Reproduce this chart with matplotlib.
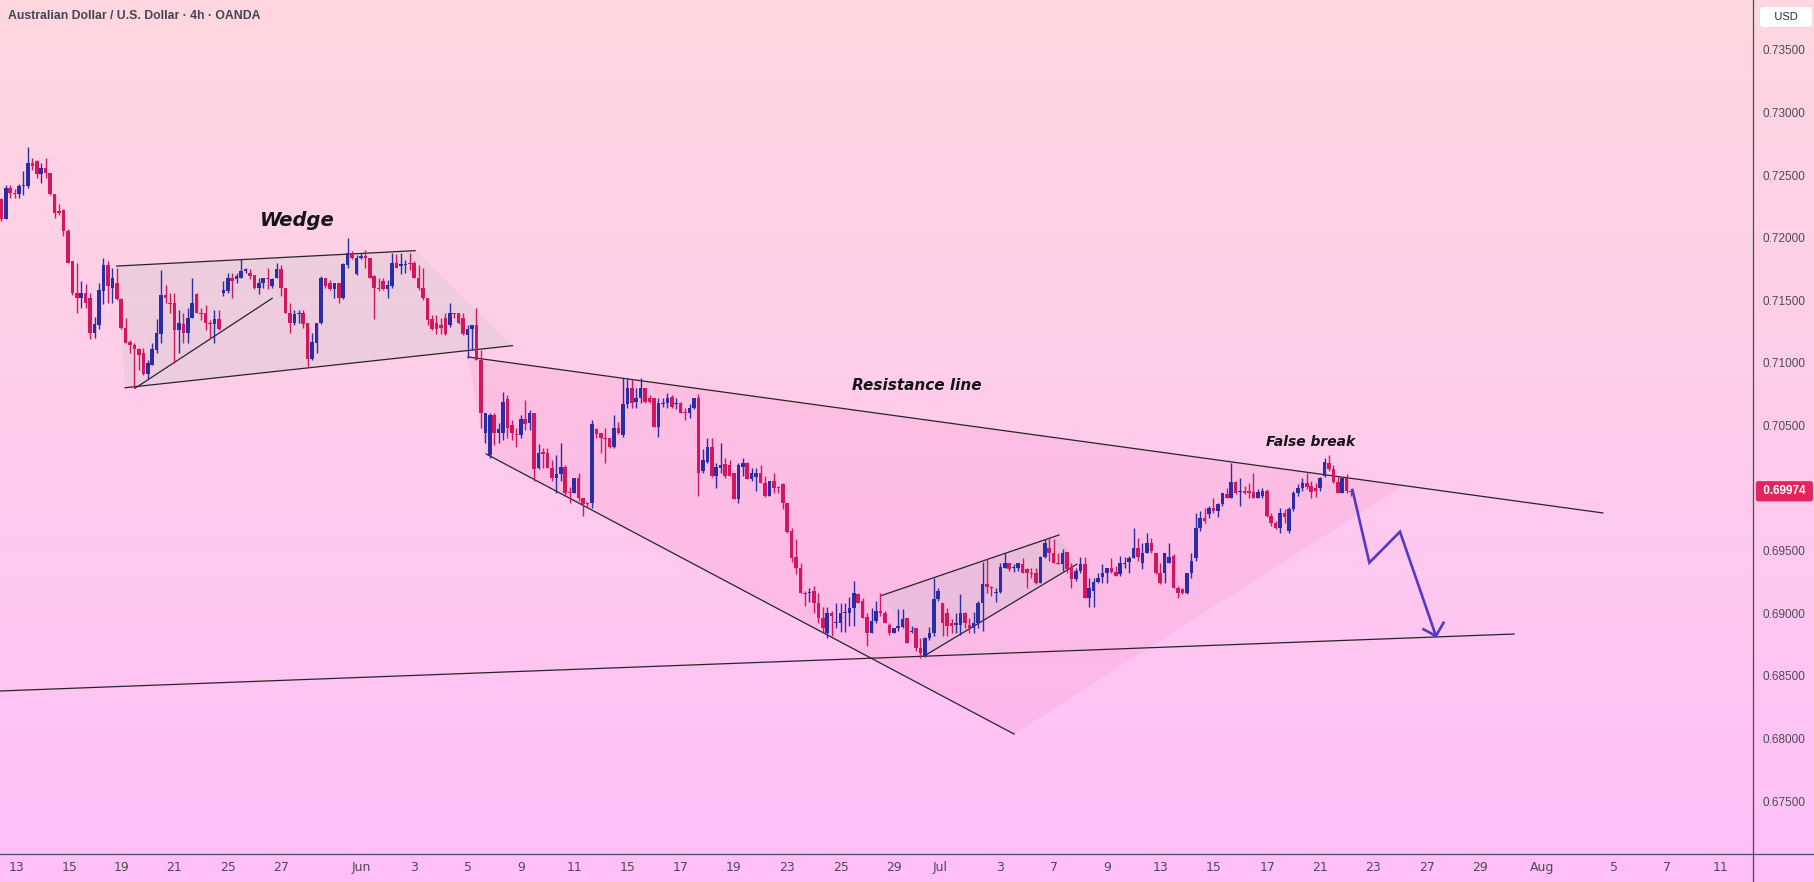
import numpy as np
import matplotlib.pyplot as plt
from matplotlib import font_manager
from matplotlib.patches import Polygon
from matplotlib.transforms import blended_transform_factory

# AUD/USD 4h candles
opens = [0.7231, 0.7215, 0.7240, 0.7236, 0.7235, 0.7241, 0.7241, 0.7260, 0.7261, 0.7251,
         0.7256, 0.7252, 0.7235, 0.7221, 0.7222, 0.7205, 0.7181, 0.7156, 0.7152, 0.7156,
         0.7152, 0.7124, 0.7130, 0.7157, 0.7178, 0.7160, 0.7164, 0.7151, 0.7128, 0.7117,
         0.7114, 0.7111, 0.7108, 0.7091, 0.7098, 0.7110, 0.7123, 0.7154, 0.7148, 0.7148,
         0.7126, 0.7131, 0.7124, 0.7136, 0.7155, 0.7140, 0.7140, 0.7132, 0.7131, 0.7135,
         0.7156, 0.7157, 0.7168, 0.7167, 0.7168, 0.7173, 0.7172, 0.7170, 0.7160, 0.7164,
         0.7168, 0.7161, 0.7168, 0.7175, 0.7160, 0.7140, 0.7132, 0.7139, 0.7140, 0.7132,
         0.7103, 0.7116, 0.7132, 0.7168, 0.7164, 0.7159, 0.7164, 0.7152, 0.7178, 0.7188,
         0.7171, 0.7184, 0.7185, 0.7184, 0.7169, 0.7160, 0.7165, 0.7159, 0.7161, 0.7180,
         0.7177, 0.7178, 0.7180, 0.7180, 0.7168, 0.7160, 0.7152, 0.7135, 0.7132, 0.7130,
         0.7136, 0.7130, 0.7140, 0.7140, 0.7136, 0.7122, 0.7127, 0.7130, 0.7102, 0.7044,
         0.7026, 0.7058, 0.7044, 0.7044, 0.7071, 0.7050, 0.7043, 0.7042, 0.7055, 0.7052,
         0.7060, 0.7016, 0.7029, 0.7028, 0.7016, 0.7008, 0.7011, 0.7017, 0.6997, 0.6996,
         0.7008, 0.6992, 0.6988, 0.6988, 0.7047, 0.7044, 0.7040, 0.7040, 0.7033, 0.7048,
         0.7042, 0.7067, 0.7080, 0.7069, 0.7072, 0.7080, 0.7072, 0.7072, 0.7049, 0.7067,
         0.7068, 0.7073, 0.7067, 0.7068, 0.7061, 0.7060, 0.7064, 0.7072, 0.7014, 0.7021,
         0.7033, 0.7010, 0.7016, 0.7019, 0.7018, 0.7012, 0.6991, 0.7017, 0.7020, 0.7007,
         0.7009, 0.7012, 0.7004, 0.6994, 0.7006, 0.7001, 0.7003, 0.6988, 0.6966, 0.6945,
         0.6936, 0.6916, 0.6916, 0.6918, 0.6908, 0.6896, 0.6884, 0.6900, 0.6892, 0.6892,
         0.6900, 0.6900, 0.6904, 0.6915, 0.6910, 0.6897, 0.6884, 0.6894, 0.6902, 0.6900,
         0.6891, 0.6884, 0.6888, 0.6889, 0.6896, 0.6885, 0.6888, 0.6872, 0.6866, 0.6880,
         0.6884, 0.6911, 0.6908, 0.6900, 0.6892, 0.6891, 0.6891, 0.6900, 0.6891, 0.6888,
         0.6892, 0.6908, 0.6923, 0.6921, 0.6916, 0.6917, 0.6936, 0.6940, 0.6936, 0.6936,
         0.6939, 0.6935, 0.6932, 0.6932, 0.6924, 0.6945, 0.6952, 0.6948, 0.6940, 0.6939,
         0.6949, 0.6936, 0.6927, 0.6934, 0.6939, 0.6912, 0.6918, 0.6925, 0.6929, 0.6932,
         0.6936, 0.6933, 0.6931, 0.6939, 0.6941, 0.6944, 0.6952, 0.6940, 0.6948, 0.6956,
         0.6948, 0.6932, 0.6932, 0.6940, 0.6946, 0.6920, 0.6919, 0.6916, 0.6932, 0.6944,
         0.6968, 0.6976, 0.6979, 0.6984, 0.6982, 0.6987, 0.6995, 0.6992, 0.7005, 0.6997,
         0.6998, 0.6998, 0.6997, 0.6992, 0.6994, 0.6998, 0.6978, 0.6972, 0.6968, 0.6980,
         0.6966, 0.6983, 0.6996, 0.7000, 0.7004, 0.7002, 0.7000, 0.7000, 0.7010, 0.7020,
         0.7015, 0.7005, 0.6996, 0.7008, 0.6998]
highs = [0.7232, 0.7242, 0.7242, 0.7239, 0.7243, 0.7253, 0.7272, 0.7264, 0.7262, 0.7260,
         0.7264, 0.7252, 0.7235, 0.7227, 0.7223, 0.7207, 0.7181, 0.7180, 0.7165, 0.7163,
         0.7156, 0.7137, 0.7164, 0.7184, 0.7181, 0.7176, 0.7176, 0.7152, 0.7136, 0.7118,
         0.7116, 0.7112, 0.7112, 0.7102, 0.7116, 0.7135, 0.7174, 0.7162, 0.7156, 0.7156,
         0.7142, 0.7140, 0.7144, 0.7168, 0.7156, 0.7144, 0.7146, 0.7134, 0.7142, 0.7142,
         0.7165, 0.7172, 0.7172, 0.7172, 0.7183, 0.7176, 0.7175, 0.7170, 0.7168, 0.7168,
         0.7176, 0.7168, 0.7180, 0.7178, 0.7160, 0.7148, 0.7142, 0.7142, 0.7142, 0.7132,
         0.7124, 0.7132, 0.7169, 0.7168, 0.7166, 0.7164, 0.7164, 0.7180, 0.7200, 0.7189,
         0.7186, 0.7188, 0.7190, 0.7184, 0.7170, 0.7168, 0.7168, 0.7166, 0.7188, 0.7187,
         0.7188, 0.7182, 0.7188, 0.7181, 0.7178, 0.7176, 0.7152, 0.7138, 0.7138, 0.7136,
         0.7140, 0.7148, 0.7140, 0.7140, 0.7140, 0.7130, 0.7130, 0.7144, 0.7110, 0.7060,
         0.7060, 0.7060, 0.7052, 0.7077, 0.7074, 0.7054, 0.7048, 0.7058, 0.7070, 0.7062,
         0.7060, 0.7035, 0.7032, 0.7032, 0.7022, 0.7026, 0.7036, 0.7018, 0.7001, 0.7008,
         0.7012, 0.6992, 0.6989, 0.7054, 0.7048, 0.7044, 0.7048, 0.7040, 0.7058, 0.7053,
         0.7088, 0.7088, 0.7087, 0.7080, 0.7088, 0.7080, 0.7074, 0.7072, 0.7072, 0.7072,
         0.7076, 0.7074, 0.7072, 0.7069, 0.7064, 0.7067, 0.7072, 0.7075, 0.7031, 0.7040,
         0.7040, 0.7020, 0.7036, 0.7024, 0.7022, 0.7012, 0.7020, 0.7024, 0.7021, 0.7016,
         0.7016, 0.7018, 0.7010, 0.7006, 0.7012, 0.7002, 0.7004, 0.6988, 0.6968, 0.6959,
         0.6940, 0.6918, 0.6920, 0.6922, 0.6916, 0.6905, 0.6905, 0.6902, 0.6908, 0.6908,
         0.6908, 0.6913, 0.6926, 0.6916, 0.6912, 0.6900, 0.6904, 0.6910, 0.6916, 0.6902,
         0.6892, 0.6888, 0.6903, 0.6903, 0.6896, 0.6890, 0.6888, 0.6880, 0.6881, 0.6889,
         0.6928, 0.6920, 0.6908, 0.6904, 0.6895, 0.6900, 0.6915, 0.6901, 0.6896, 0.6901,
         0.6910, 0.6941, 0.6943, 0.6922, 0.6920, 0.6940, 0.6948, 0.6940, 0.6939, 0.6940,
         0.6944, 0.6936, 0.6936, 0.6936, 0.6946, 0.6959, 0.6960, 0.6959, 0.6948, 0.6951,
         0.6949, 0.6940, 0.6936, 0.6945, 0.6945, 0.6928, 0.6928, 0.6932, 0.6939, 0.6936,
         0.6944, 0.6938, 0.6946, 0.6945, 0.6946, 0.6968, 0.6960, 0.6956, 0.6964, 0.6960,
         0.6948, 0.6940, 0.6948, 0.6956, 0.6947, 0.6922, 0.6920, 0.6932, 0.6948, 0.6980,
         0.6982, 0.6984, 0.6986, 0.6992, 0.6988, 0.6996, 0.7000, 0.7020, 0.7006, 0.7008,
         0.7002, 0.7004, 0.7012, 0.6999, 0.7000, 0.6999, 0.6980, 0.6974, 0.6984, 0.6983,
         0.6985, 0.6998, 0.7003, 0.7008, 0.7012, 0.7006, 0.7004, 0.7009, 0.7024, 0.7026,
         0.7018, 0.7010, 0.7008, 0.7011, 0.6999]
lows = [0.7213, 0.7215, 0.7232, 0.7232, 0.7232, 0.7234, 0.7240, 0.7254, 0.7248, 0.7244,
        0.7248, 0.7234, 0.7216, 0.7218, 0.7201, 0.7180, 0.7154, 0.7140, 0.7144, 0.7144,
        0.7119, 0.7120, 0.7127, 0.7147, 0.7148, 0.7148, 0.7150, 0.7127, 0.7116, 0.7108,
        0.7080, 0.7094, 0.7090, 0.7087, 0.7098, 0.7108, 0.7116, 0.7148, 0.7140, 0.7100,
        0.7108, 0.7116, 0.7116, 0.7136, 0.7140, 0.7134, 0.7126, 0.7120, 0.7116, 0.7126,
        0.7153, 0.7156, 0.7152, 0.7164, 0.7168, 0.7172, 0.7167, 0.7159, 0.7155, 0.7160,
        0.7159, 0.7160, 0.7168, 0.7153, 0.7140, 0.7124, 0.7130, 0.7132, 0.7128, 0.7097,
        0.7102, 0.7108, 0.7131, 0.7160, 0.7158, 0.7152, 0.7148, 0.7151, 0.7176, 0.7183,
        0.7170, 0.7183, 0.7176, 0.7168, 0.7135, 0.7157, 0.7158, 0.7152, 0.7160, 0.7176,
        0.7171, 0.7172, 0.7174, 0.7168, 0.7158, 0.7150, 0.7130, 0.7126, 0.7123, 0.7123,
        0.7122, 0.7129, 0.7136, 0.7131, 0.7122, 0.7104, 0.7110, 0.7102, 0.7048, 0.7036,
        0.7024, 0.7034, 0.7036, 0.7038, 0.7040, 0.7038, 0.7033, 0.7040, 0.7046, 0.7046,
        0.7006, 0.7015, 0.7016, 0.7016, 0.7006, 0.6996, 0.7006, 0.6994, 0.6988, 0.6996,
        0.6990, 0.6978, 0.6984, 0.6984, 0.7040, 0.7028, 0.7020, 0.7032, 0.7032, 0.7043,
        0.7041, 0.7064, 0.7064, 0.7064, 0.7068, 0.7068, 0.7068, 0.7049, 0.7041, 0.7065,
        0.7064, 0.7064, 0.7063, 0.7060, 0.7054, 0.7056, 0.7063, 0.6994, 0.7012, 0.7020,
        0.7009, 0.7000, 0.7012, 0.7008, 0.7010, 0.6991, 0.6988, 0.7010, 0.7007, 0.7006,
        0.6998, 0.7004, 0.6993, 0.6994, 0.6996, 0.6996, 0.6983, 0.6964, 0.6941, 0.6931,
        0.6916, 0.6906, 0.6909, 0.6900, 0.6892, 0.6884, 0.6880, 0.6882, 0.6888, 0.6885,
        0.6885, 0.6890, 0.6890, 0.6908, 0.6896, 0.6874, 0.6884, 0.6892, 0.6898, 0.6892,
        0.6883, 0.6884, 0.6886, 0.6888, 0.6876, 0.6884, 0.6870, 0.6864, 0.6865, 0.6879,
        0.6882, 0.6910, 0.6882, 0.6882, 0.6884, 0.6884, 0.6883, 0.6888, 0.6884, 0.6884,
        0.6888, 0.6886, 0.6916, 0.6914, 0.6909, 0.6916, 0.6936, 0.6934, 0.6933, 0.6934,
        0.6932, 0.6920, 0.6928, 0.6923, 0.6924, 0.6944, 0.6942, 0.6940, 0.6939, 0.6934,
        0.6932, 0.6920, 0.6926, 0.6932, 0.6912, 0.6905, 0.6905, 0.6924, 0.6924, 0.6924,
        0.6932, 0.6930, 0.6930, 0.6936, 0.6932, 0.6944, 0.6942, 0.6935, 0.6948, 0.6948,
        0.6931, 0.6923, 0.6924, 0.6940, 0.6920, 0.6912, 0.6915, 0.6915, 0.6928, 0.6942,
        0.6966, 0.6972, 0.6976, 0.6980, 0.6977, 0.6986, 0.6992, 0.6992, 0.6995, 0.6986,
        0.6995, 0.6992, 0.6992, 0.6992, 0.6992, 0.6977, 0.6970, 0.6967, 0.6964, 0.6972,
        0.6964, 0.6982, 0.6994, 0.6998, 0.6999, 0.6992, 0.6993, 0.6998, 0.7009, 0.7014,
        0.7004, 0.6996, 0.6996, 0.6996, 0.6994]
closes = [0.7215, 0.7240, 0.7236, 0.7235, 0.7241, 0.7242, 0.7260, 0.7257, 0.7251, 0.7256,
          0.7252, 0.7235, 0.7220, 0.7220, 0.7205, 0.7180, 0.7156, 0.7152, 0.7156, 0.7148,
          0.7124, 0.7131, 0.7158, 0.7178, 0.7161, 0.7168, 0.7151, 0.7128, 0.7116, 0.7114,
          0.7111, 0.7106, 0.7091, 0.7100, 0.7111, 0.7124, 0.7154, 0.7152, 0.7147, 0.7126,
          0.7132, 0.7124, 0.7136, 0.7148, 0.7140, 0.7139, 0.7132, 0.7131, 0.7135, 0.7127,
          0.7158, 0.7168, 0.7165, 0.7169, 0.7173, 0.7175, 0.7169, 0.7160, 0.7164, 0.7168,
          0.7167, 0.7167, 0.7175, 0.7160, 0.7140, 0.7132, 0.7139, 0.7140, 0.7131, 0.7103,
          0.7117, 0.7132, 0.7168, 0.7161, 0.7159, 0.7164, 0.7152, 0.7179, 0.7188, 0.7184,
          0.7184, 0.7185, 0.7184, 0.7168, 0.7160, 0.7159, 0.7159, 0.7162, 0.7180, 0.7176,
          0.7179, 0.7179, 0.7179, 0.7168, 0.7160, 0.7152, 0.7134, 0.7127, 0.7127, 0.7128,
          0.7123, 0.7140, 0.7139, 0.7132, 0.7123, 0.7127, 0.7130, 0.7102, 0.7060, 0.7060,
          0.7058, 0.7044, 0.7047, 0.7069, 0.7048, 0.7044, 0.7042, 0.7055, 0.7051, 0.7060,
          0.7015, 0.7028, 0.7027, 0.7016, 0.7008, 0.7011, 0.7017, 0.6996, 0.6996, 0.7008,
          0.6992, 0.6987, 0.6987, 0.7051, 0.7043, 0.7040, 0.7039, 0.7033, 0.7048, 0.7044,
          0.7067, 0.7080, 0.7068, 0.7072, 0.7080, 0.7069, 0.7069, 0.7049, 0.7068, 0.7068,
          0.7072, 0.7065, 0.7068, 0.7060, 0.7060, 0.7064, 0.7072, 0.7012, 0.7022, 0.7033,
          0.7010, 0.7017, 0.7018, 0.7010, 0.7010, 0.6991, 0.7018, 0.7020, 0.7007, 0.7012,
          0.7012, 0.7004, 0.6994, 0.7006, 0.7000, 0.7000, 0.6988, 0.6965, 0.6944, 0.6936,
          0.6916, 0.6915, 0.6917, 0.6908, 0.6896, 0.6888, 0.6900, 0.6898, 0.6893, 0.6900,
          0.6901, 0.6904, 0.6916, 0.6908, 0.6896, 0.6884, 0.6894, 0.6902, 0.6900, 0.6892,
          0.6884, 0.6888, 0.6890, 0.6895, 0.6876, 0.6886, 0.6872, 0.6868, 0.6880, 0.6884,
          0.6911, 0.6918, 0.6892, 0.6890, 0.6890, 0.6892, 0.6900, 0.6892, 0.6888, 0.6892,
          0.6908, 0.6923, 0.6921, 0.6920, 0.6917, 0.6937, 0.6940, 0.6935, 0.6937, 0.6940,
          0.6932, 0.6932, 0.6931, 0.6924, 0.6945, 0.6956, 0.6948, 0.6940, 0.6939, 0.6948,
          0.6935, 0.6927, 0.6934, 0.6939, 0.6912, 0.6920, 0.6925, 0.6928, 0.6932, 0.6936,
          0.6933, 0.6930, 0.6940, 0.6940, 0.6944, 0.6952, 0.6945, 0.6948, 0.6956, 0.6950,
          0.6932, 0.6924, 0.6948, 0.6945, 0.6920, 0.6916, 0.6916, 0.6932, 0.6942, 0.6968,
          0.6976, 0.6974, 0.6984, 0.6982, 0.6987, 0.6996, 0.6992, 0.7005, 0.6996, 0.6998,
          0.6996, 0.6996, 0.6992, 0.6997, 0.6998, 0.6978, 0.6972, 0.6968, 0.6980, 0.6977,
          0.6983, 0.6996, 0.7000, 0.7004, 0.7001, 0.6997, 0.6998, 0.7008, 0.7021, 0.7015,
          0.7005, 0.6996, 0.7008, 0.6998, 0.6997]
last_price = 0.69974

# time axis labels (bar positions on the 4h index)
tick_pos = [3.4, 15.4, 27.1, 38.9, 51.1, 63.1, 81.0, 93.0, 105.0, 117.0, 129.2, 141.0,
            153.0, 165.0, 177.0, 189.1, 201.0, 211.4, 225.0, 237.0, 249.1, 261.0, 273.1,
            285.1, 297.0, 309.0, 321.1, 333.1, 347.0, 363.1, 375.1, 387.1]
tick_lab = ['13', '15', '19', '21', '25', '27', 'Jun', '3', '5', '9', '11', '15',
            '17', '19', '23', '25', '29', 'Jul', '3', '7', '9', '13', '15',
            '17', '21', '23', '27', '29', 'Aug', '5', '7', '11']
# 0.70000 sits under the last-price tag, so it is not listed
price_ticks = [0.675, 0.680, 0.685, 0.690, 0.695, 0.705, 0.710, 0.715, 0.720, 0.725, 0.730, 0.735]

# drawings (bar index, price)
wedge_x = [26.0, 93.2, 115.1, 27.9]
wedge_y = [0.71773, 0.71896, 0.71137, 0.70801]
inner_x = [30.1, 61.0]
inner_y = [0.70797, 0.71515]
tri_x = [105.1, 315.7, 228.1, 109.2]
tri_y = [0.71047, 0.70020, 0.68035, 0.70272]
resist_x = [105.1, 360.7]
resist_y = [0.71047, 0.69801]
small_x = [198.1, 238.2, 242.2, 208.2]
small_y = [0.69140, 0.69625, 0.69391, 0.68666]
support_x = [-0.29, 340.7]
support_y = [0.68379, 0.68834]
arrow_x = [304.3, 308.1, 315.0, 323.1]
arrow_y = [0.69984, 0.69404, 0.69651, 0.68818]
head_x = [320.3, 323.1, 324.8]
head_y = [0.68872, 0.68818, 0.68924]

W, H = 1815, 882
fig = plt.figure(figsize=(W / 100, H / 100), dpi=100)

names = {f.name for f in font_manager.fontManager.ttflist}
narrow = 'Liberation Sans Narrow' if 'Liberation Sans Narrow' in names else 'DejaVu Sans'
sans = 'Liberation Sans' if 'Liberation Sans' in names else 'DejaVu Sans'

# background gradient
bg = fig.add_axes([0, 0, 1, 1], zorder=-10)
top = np.array([254, 215, 224]) / 255
bot = np.array([255, 192, 248]) / 255
t = np.linspace(0, 1, 256)[:, None]
grad = top[None, :] * (1 - t) + bot[None, :] * t
bg.imshow(grad[:, None, :], aspect='auto', extent=[0, 1, 0, 1])
bg.axis('off')

ax = fig.add_axes([0, 28 / H, 1753 / W, 854 / H])
ax.set_facecolor('none')
ax.set_xlim(-0.29, 394.5)
ax.set_ylim(0.67077, 0.73898)

# pattern fills
ax.add_patch(Polygon(list(zip(tri_x, tri_y)), closed=True, fc=(0.94, 0.40, 0.67), alpha=0.12, ec='none', zorder=1))
ax.add_patch(Polygon(list(zip(wedge_x, wedge_y)), closed=True, fc=(0.59, 0.78, 0.67), alpha=0.16, ec='none', zorder=1))
ax.add_patch(Polygon(list(zip(small_x, small_y)), closed=True, fc=(0.59, 0.78, 0.67), alpha=0.16, ec='none', zorder=1))

lc = '#262626'
ax.plot(wedge_x[:2], wedge_y[:2], color=lc, lw=0.9, zorder=2)
ax.plot(wedge_x[2:], wedge_y[2:], color=lc, lw=0.9, zorder=2)
ax.plot(inner_x, inner_y, color=lc, lw=0.9, zorder=2)
ax.plot(resist_x, resist_y, color=lc, lw=0.9, zorder=2)
ax.plot([tri_x[3], tri_x[2]], [tri_y[3], tri_y[2]], color=lc, lw=0.9, zorder=2)
ax.plot(small_x[:2], small_y[:2], color=lc, lw=0.9, zorder=2)
ax.plot(small_x[2:], small_y[2:], color=lc, lw=0.9, zorder=2)
ax.plot(support_x, support_y, color=lc, lw=0.9, zorder=2)

# candles
o = np.array(opens)
h = np.array(highs)
l = np.array(lows)
c = np.array(closes)
x = np.arange(len(o))
up = c >= o
cols = np.where(up, '#2A2DA6', '#D2175F')
ax.vlines(x, l, h, colors=cols, lw=1.0, zorder=3)
body_lo = np.minimum(o, c)
body_h = np.maximum(np.abs(c - o), 0.0001)
ax.bar(x, body_h, bottom=body_lo, width=0.8, color=cols, linewidth=0, zorder=4)

# projected path
ax.plot(arrow_x, arrow_y, color='#5638C2', lw=1.9, solid_joinstyle='miter', zorder=5)
ax.plot(head_x, head_y, color='#5638C2', lw=1.9, solid_joinstyle='miter', zorder=5)

ax.text(66.7, 0.72133, 'Wedge', fontsize=14, fontweight='bold', fontstyle='italic',
        ha='center', va='center', color='#151515', zorder=6)
ax.text(206.1, 0.70815, 'Resistance line', fontsize=11, fontweight='bold', fontstyle='italic',
        ha='center', va='center', color='#151515', zorder=6)
ax.text(294.8, 0.70368, 'False break', fontsize=10, fontweight='bold', fontstyle='italic',
        ha='center', va='center', color='#151515', zorder=6)

# axes styling
for s in ax.spines.values():
    s.set_visible(False)
ax.yaxis.tick_right()
ax.set_yticks(price_ticks)
ax.set_yticklabels(['%.5f' % v for v in price_ticks], fontsize=8.5, color='#4A4B55', family=sans)
ax.tick_params(axis='y', length=0, pad=6.5)
ax.set_xticks(tick_pos)
ax.set_xticklabels(tick_lab, fontsize=9, color='#4A4B55', family=narrow)
ax.tick_params(axis='x', length=0, pad=5)

fig.add_artist(plt.Line2D([0, 1], [28 / H, 28 / H], color='#4A4B55', lw=0.9))
fig.add_artist(plt.Line2D([1753 / W, 1753 / W], [0, 1], color='#4A4B55', lw=0.9))

tr = blended_transform_factory(ax.transAxes, ax.transData)
ax.text(1.004, last_price, ' %.5f ' % last_price, transform=tr, ha='left', va='center',
        fontsize=8.5, fontweight='bold', color='white', family=sans, clip_on=False,
        bbox=dict(boxstyle='round,pad=0.35,rounding_size=0.2', fc='#E3245F', ec='none'))

fig.text(1786 / W, 1 - 17 / H, '   USD   ', ha='center', va='center', fontsize=8, color='#2A2A33', family=sans,
         bbox=dict(boxstyle='round,pad=0.45,rounding_size=0.35', fc='white', ec='none'))
fig.text(8 / W, 1 - 16 / H, 'Australian Dollar / U.S. Dollar · 4h · OANDA', ha='left', va='center',
         fontsize=8.8, fontweight='bold', color='#434651', family=sans)

fig.savefig('out.png', dpi=100)
